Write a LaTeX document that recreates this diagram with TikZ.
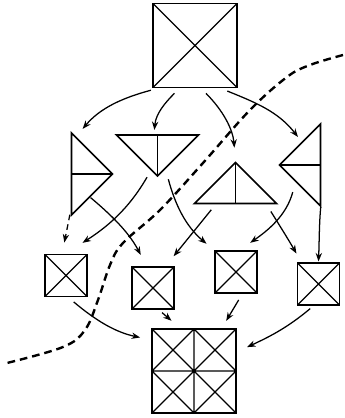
\documentclass[tikz,border=0pt]{standalone}
\usepackage{tikz}
\usetikzlibrary{arrows.meta, shapes.geometric}
\tikzset{
  xbox/.style={draw, line width=1.3pt, minimum size=1.05cm, inner sep=0pt,
    path picture={\draw[line width=0.9pt]
      (path picture bounding box.north west) -- (path picture bounding box.south east)
      (path picture bounding box.north east) -- (path picture bounding box.south west);}},
  bigxbox/.style={xbox, minimum size=2.1cm},
  quadbox/.style={draw, line width=1.3pt, minimum size=2.1cm, inner sep=0pt,
    path picture={\draw[line width=0.9pt]
      (path picture bounding box.north west) -- (path picture bounding box.south east)
      (path picture bounding box.north east) -- (path picture bounding box.south west)
      (path picture bounding box.north) -- (path picture bounding box.south)
      (path picture bounding box.west) -- (path picture bounding box.east)
      (path picture bounding box.north) -- (path picture bounding box.east)
      -- (path picture bounding box.south) -- (path picture bounding box.west) -- cycle;}},
  halftri/.style={draw, line width=1.2pt, isosceles triangle,
    isosceles triangle stretches, inner sep=0pt,
    minimum width=2.05cm, minimum height=1.025cm},
  medh/.style={path picture={\draw[line width=0.9pt]
      (path picture bounding box.west) -- (path picture bounding box.east);}},
  medv/.style={path picture={\draw[line width=0.9pt]
      (path picture bounding box.north) -- (path picture bounding box.south);}},
  arr/.style={-{Stealth[length=6pt, width=4.5pt]}, line width=0.9pt,
    shorten <=5pt, shorten >=7pt},
  darr/.style={arr, dash pattern=on 4pt off 3pt},
  cutline/.style={line width=1.7pt, dash pattern=on 5.5pt off 3.5pt},
}

\begin{document}
\begin{tikzpicture}
  \useasboundingbox (0,0) rectangle (8.6,10.45);

  % whole square
  \node[bigxbox] (T) at (4.875,9.3125) {};

  % halves
  \node[halftri, medh, shape border rotate=0] (tL) at (2.2125,6.1) {};
  \node[halftri, medv, shape border rotate=270] (tD) at (3.9375,6.65) {};
  \node[halftri, medv, shape border rotate=90] (tU) at (5.8875,5.7875) {};
  \node[halftri, medh, shape border rotate=180] (tR) at (7.5875,6.325) {};

  % quarters
  \node[xbox] (s1) at (1.65,3.5625) {};
  \node[xbox] (s2) at (3.825,3.25) {};
  \node[xbox] (s3) at (5.9,3.65) {};
  \node[xbox] (s4) at (7.9625,3.35) {};

  % recombined
  \node[quadbox] (B) at (4.85,1.175) {};

  % splitting
  \draw[arr] (T.229) to[out=195, in=50] (tL.108);
  \draw[arr, shorten >=3pt] (T.250) to[out=225, in=85] (tD.101);
  \draw[arr, shorten >=9pt] (T.278) to[out=-45, in=95] (tU.apex);
  \draw[arr, shorten >=4pt] (T.301) to[out=-22, in=128] (tR.95);

  \draw[darr, shorten <=3pt, shorten >=8pt] (tL.244) -- (s1.100);
  \draw[arr, shorten <=0pt, shorten >=9pt] (tL.275) to[out=-40, in=118] (s2.106);
  \draw[arr, shorten >=14pt] (tD.250) to[out=240, in=33] (s1.north);
  \draw[arr, shorten <=7pt] (tD.295) to[out=-75, in=140] (s3.135);
  \draw[arr, shorten >=9pt] (tU.222) -- (s2.60);
  \draw[arr, shorten <=6pt] (tU.330) to[out=-58, in=120] (s4.128);
  \draw[arr, shorten <=7pt, shorten >=9pt] (tR.245) to[out=255, in=35] (s3.80);
  \draw[arr, shorten >=0.5pt] (tR.297) to[out=265, in=88] (s4.north);

  % merging
  \draw[arr, shorten >=8pt] (s1.276) to[out=-40, in=168] (B.144);
  \draw[arr, shorten <=3pt, shorten >=8pt] (s2.285) -- (B.108);
  \draw[arr, shorten >=6pt] (s3.286) -- (B.57);
  \draw[arr, shorten <=3pt, shorten >=8pt] (s4.257) to[out=220, in=25] (B.24);

  % cut
  \draw[cutline] plot[smooth, tension=0.6] coordinates {
    (8.575,9.075) (7.75,8.825) (7.175,8.525) (6.25,7.7) (5.075,6.375)
    (4.0,5.2) (3.075,4.375) (2.75,3.825) (2.45,2.95) (2.125,2.2)
    (1.575,1.775) (0.175,1.375)};
\end{tikzpicture}
\end{document}
